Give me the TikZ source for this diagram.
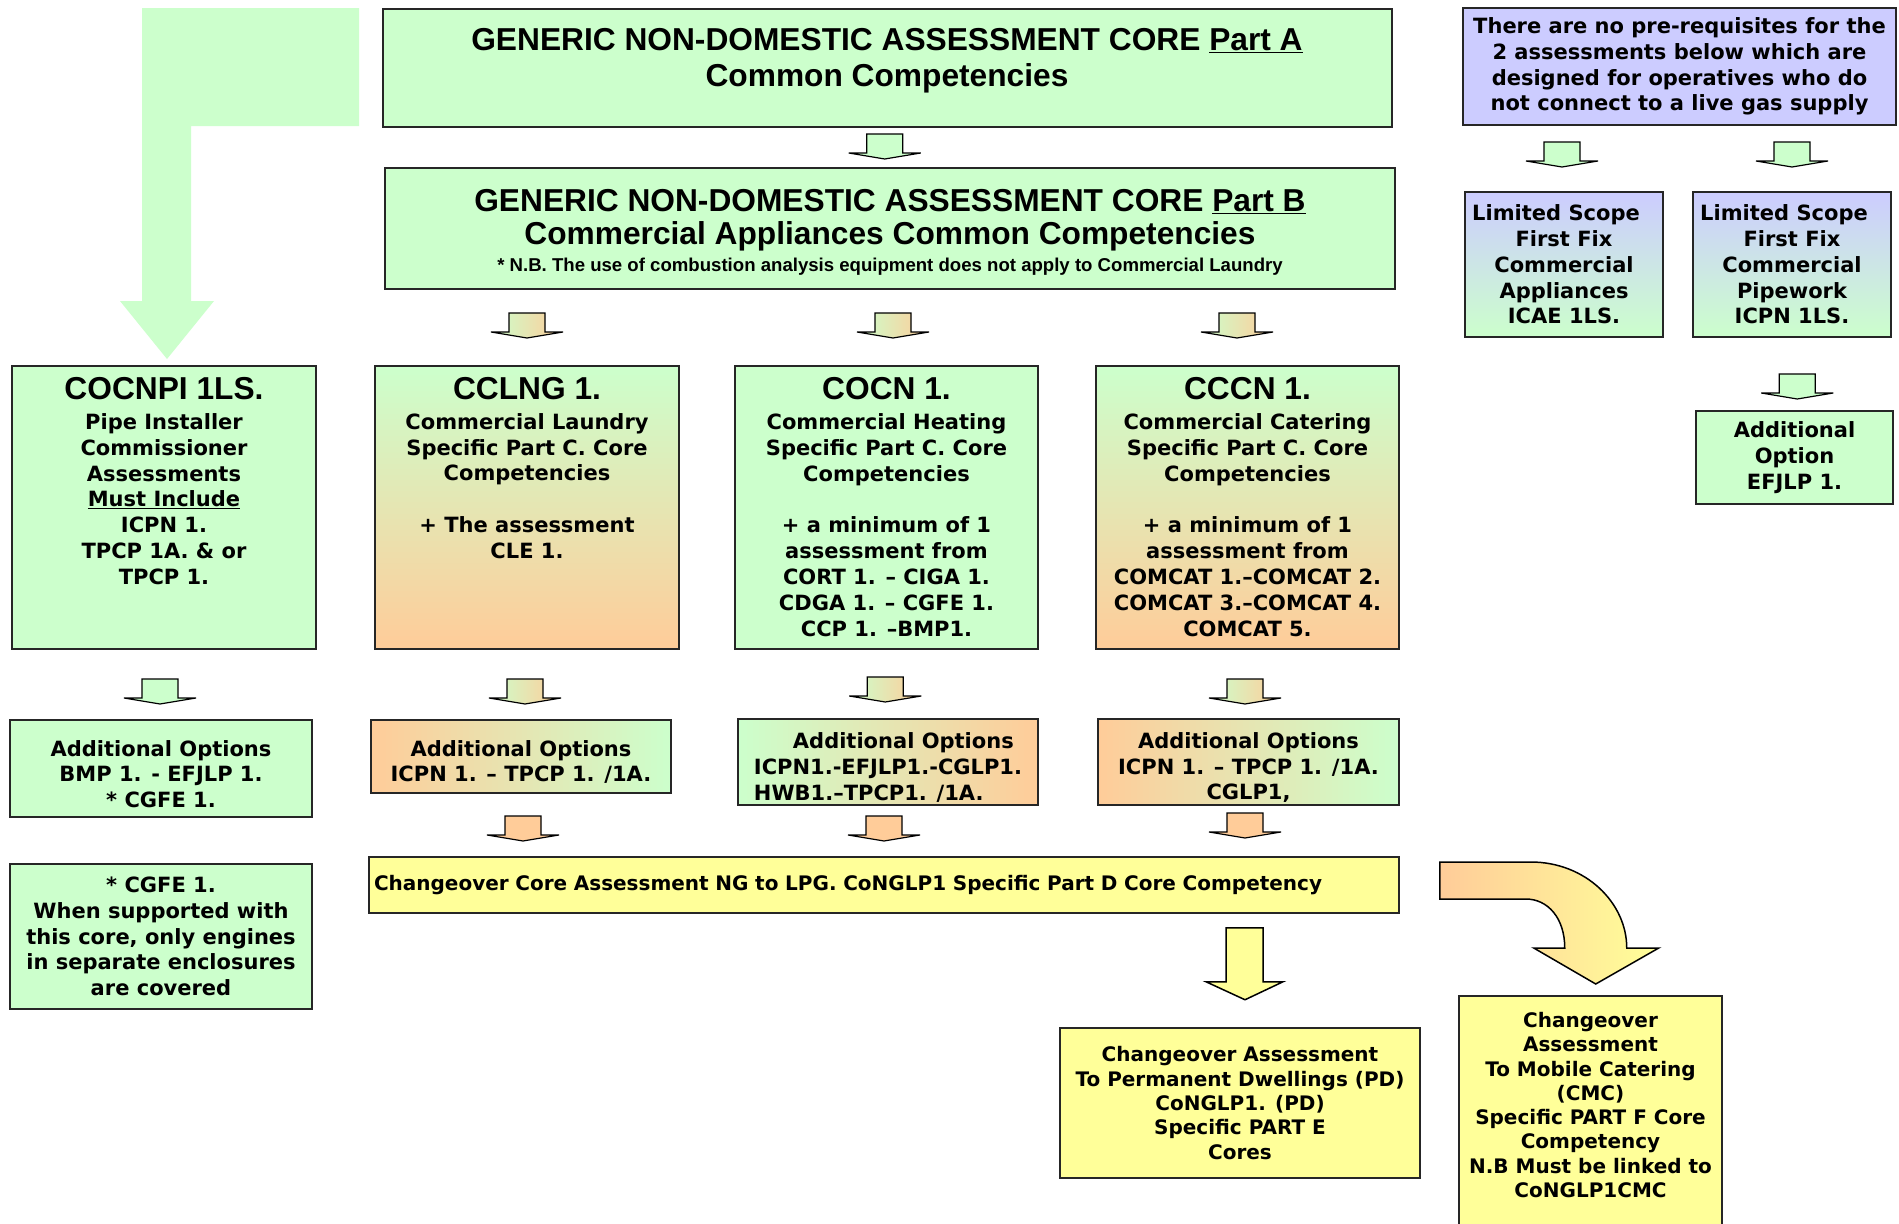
\documentclass[tikz,border=0pt]{standalone}
\usepackage{fontspec}
\newfontfamily\headfont{Liberation Sans}
\newfontfamily\bodyfont{DejaVu Sans}
\usepackage{xcolor}
\usetikzlibrary{positioning, calc}

\definecolor{cgreen}{HTML}{CCFFCC}
\definecolor{corange}{HTML}{FFCC99}
\definecolor{cyellow}{HTML}{FFFF99}
\definecolor{cpurple}{HTML}{CCCCFF}

\newcommand{\tallstrut}{\rule{0pt}{27pt}}

\begin{document}
\begin{tikzpicture}[
  x=1pt, y=-1pt,
  box/.style={draw=black!85, line width=1.5pt, inner sep=0pt, align=center},
  head/.style={font={\headfont\bfseries\fontsize{31.7}{36}\selectfont}, align=center, inner sep=0pt},
  note/.style={font={\headfont\bfseries\fontsize{18.6}{20}\selectfont}, align=center, inner sep=0pt},
  body/.style={font={\bodyfont\bfseries\fontsize{21}{25.8}\selectfont}},
  chg/.style={font={\bodyfont\bfseries\fontsize{20}{24.3}\selectfont}, align=center},
  arr/.style={draw=black, line width=1.2pt},
  bigarr/.style={draw=black, line width=1.5pt},
  downarr/.style={insert path={++(-18,-12.5) -- ++(36,0) -- ++(0,19) -- ++(18,0) -- ++(-36,6) -- ++(-36,-6) -- ++(18,0) -- cycle}}
]
\path[use as bounding box, fill=white] (0,0) rectangle (1899,1224);

% Big arrow on the left
\fill[cgreen] (142,8) -- (359,8) -- (359,126) -- (191,126) -- (191,301) -- (214,301)
  -- (167,359) -- (120,301) -- (142,301) -- cycle;

% Core parts
\node[box, fill=cgreen, minimum width=1009pt, minimum height=118pt] (partA) at (887.5,68) {};
\node[head] (partAT) at (887,61) {GENERIC NON-DOMESTIC ASSESSMENT CORE \underline{Part A}\\Common Competencies};
\node[box, fill=cgreen, minimum width=1010pt, minimum height=121pt] (partB) at (890,228.5) {};
\node[head, font={\headfont\bfseries\fontsize{31.7}{33}\selectfont}] (partBT) at (890,220)
  {GENERIC NON-DOMESTIC ASSESSMENT CORE \underline{Part B}\\Commercial Appliances Common Competencies};
\node[note] (partBN) at (890,267) {* N.B. The use of combustion analysis equipment does not apply to Commercial Laundry};

% Limited scope side
\node[box, body, fill=cpurple, minimum width=433pt, minimum height=117pt] (prereq) at (1679.5,66.5)
  {There are no pre-requisites for the\\2 assessments below which are\\designed for operatives who do\\not connect to a live gas supply};
\node[box, body, top color=cpurple, bottom color=cgreen, minimum width=198pt, minimum height=145pt] (lsAppl) at (1564,264.5)
  {Limited Scope\hspace*{16pt}\\First Fix\\Commercial\\Appliances\\ICAE 1LS.};
\node[box, body, top color=cpurple, bottom color=cgreen, minimum width=198pt, minimum height=145pt] (lsPipe) at (1792,264.5)
  {Limited Scope\hspace*{16pt}\\First Fix\\Commercial\\Pipework\\ICPN 1LS.};
\node[box, body, fill=cgreen, minimum width=197pt, minimum height=93pt] (efjlp) at (1794.5,457.5)
  {Additional\\Option\\EFJLP 1.};

% Part C columns
\node[box, fill=cgreen, minimum width=304pt, minimum height=283pt] (cocnpi) at (164,507.5) {};
\node[box, top color=cgreen, bottom color=corange, minimum width=304pt, minimum height=283pt] (cclng) at (527,507.5) {};
\node[box, fill=cgreen, minimum width=303pt, minimum height=283pt] (cocn) at (886.5,507.5) {};
\node[box, top color=cgreen, bottom color=corange, minimum width=303pt, minimum height=283pt] (cccn) at (1247.5,507.5) {};

\node[head] (cocnpiT) at (164,389) {COCNPI 1LS.};
\node[head] (cclngT) at (527,389) {CCLNG 1.};
\node[head] (cocnT) at (886.5,389) {COCN 1.};
\node[head] (cccnT) at (1247.5,389) {CCCN 1.};

\node[body, align=center, inner sep=0pt] (cocnpiB) at (164,499)
  {Pipe Installer\\Commissioner\\Assessments\\\underline{Must Include}\\ICPN 1.\\TPCP 1A. \& or\\TPCP 1.};
\node[body, align=center, inner sep=0pt] (cclngB) at (527,486)
  {Commercial Laundry\\Specific Part C. Core\\Competencies\\[25.8pt]+ The assessment\\CLE 1.};
\node[body, align=center, inner sep=0pt] (cocnB) at (886.5,525)
  {Commercial Heating\\Specific Part C. Core\\Competencies\\[25.8pt]+ a minimum of 1\\assessment from\\CORT 1. – CIGA 1.\\CDGA 1. – CGFE 1.\\CCP 1. –BMP1.};
\node[body, align=center, inner sep=0pt] (cccnB) at (1247.5,525)
  {Commercial Catering\\Specific Part C. Core\\Competencies\\[25.8pt]+ a minimum of 1\\assessment from\\COMCAT 1.–COMCAT 2.\\COMCAT 3.–COMCAT 4.\\COMCAT 5.};

% Additional options
\node[box, body, fill=cgreen, minimum width=302pt, minimum height=97pt] (optCocnpi) at (161,768.5)
  {\tallstrut Additional Options\\BMP 1. - EFJLP 1.\\* CGFE 1.};
\node[box, body, left color=corange, right color=cgreen, minimum width=300pt, minimum height=73pt] (optCclng) at (521,756.5)
  {\tallstrut Additional Options\\ICPN 1. – TPCP 1. /1A.};
\node[box, body, align=left, left color=cgreen, right color=corange, minimum width=300pt, minimum height=86pt] (optCocn) at (888,762)
  {\tallstrut\hspace*{39pt}Additional Options\\ICPN1.-EFJLP1.-CGLP1.\\HWB1.–TPCP1. /1A.};
\node[box, body, left color=corange, right color=cgreen, minimum width=301pt, minimum height=86pt] (optCccn) at (1248.5,762)
  {\tallstrut Additional Options\\ICPN 1. – TPCP 1. /1A.\\CGLP1,};
\node[box, body, fill=cgreen, minimum width=302pt, minimum height=145pt] (cgfe) at (161,936.5)
  {* CGFE 1.\\When supported with\\this core, only engines\\in separate enclosures\\are covered};

% Changeover
\node[box, chg, align=left, fill=cyellow, text width=1020pt, minimum width=1030pt, minimum height=56pt] (core) at (884,885)
  {Changeover Core Assessment NG to LPG. CoNGLP1 Specific Part D Core Competency};
\node[box, chg, fill=cyellow, minimum width=360pt, minimum height=150pt] (pd) at (1240,1103)
  {Changeover Assessment\\To Permanent Dwellings (PD)\\CoNGLP1. (PD)\\Specific PART E\\Cores};
\node[box, fill=cyellow, minimum width=263pt, minimum height=244pt] (cmc) at (1590.5,1118) {};
\node[chg, inner sep=0pt] (cmcT) at (1590.5,1105)
  {Changeover\\Assessment\\To Mobile Catering\\(CMC)\\Specific PART F Core\\Competency\\N.B Must be linked to\\CoNGLP1CMC};

% Arrows
\draw[arr, fill=cgreen] ($(partA.south)!.5!(partB.north)+(-4,-1)$) [downarr];
\draw[arr, left color=cgreen, right color=corange] ($(partB.south -| cclng.north)!.5!(cclng.north)+(0,-2)$) [downarr];
\draw[arr, left color=cgreen, right color=corange] ($(partB.south -| cocn.north)!.5!(cocn.north)+(6.5,-2)$) [downarr];
\draw[arr, left color=cgreen, right color=corange] ($(partB.south -| cccn.north)!.5!(cccn.north)+(-10.5,-2)$) [downarr];
\draw[arr, fill=cgreen] ($(prereq.south -| lsAppl.north)!.5!(lsAppl.north)+(-2,-4)$) [downarr];
\draw[arr, fill=cgreen] ($(prereq.south -| lsPipe.north)!.5!(lsPipe.north)+(0,-4)$) [downarr];
\draw[arr, fill=cgreen] ($(lsPipe.south)!.5!(efjlp.north)+(4,12.5)$) [downarr];

\draw[arr, fill=cgreen] ($(cocnpi.south)!.5!(optCocnpi.north)+(-2.5,7)$) [downarr];
\draw[arr, left color=cgreen, right color=corange] ($(cclng.south)!.5!(optCclng.north)+(1,7)$) [downarr];
\draw[arr, left color=cgreen, right color=corange] ($(cocn.south)!.5!(optCocn.north)+(-2,5.5)$) [downarr];
\draw[arr, left color=cgreen, right color=corange] ($(cccn.south)!.5!(optCccn.north)+(-3,7.5)$) [downarr];

\draw[arr, fill=corange] ($(optCclng.south)!.5!(optCclng.south |- core.north)+(2,3.5)$) [downarr];
\draw[arr, fill=corange] ($(optCocn.south)!.5!(optCocn.south |- core.north)+(-4,-2.5)$) [downarr];
\draw[arr, fill=corange] ($(optCccn.south)!.5!(optCccn.south |- core.north)+(-3.5,-5.5)$) [downarr];

\draw[bigarr, fill=cyellow] ($(core.south -| pd.north)+(-14,14)$) -- ++(37,0) -- ++(0,54) -- ++(20,0)
  -- ++(-38,18) -- ++(-39,-18) -- ++(20,0) -- cycle;
\draw[bigarr, left color=corange, right color=cyellow] ($(core.east)+(40,-23)$) -- ++(91,0)
  .. controls +(55,0) and +(0,-45) .. ++(96,86) -- ++(32,0) -- ++(-63,36) -- ++(-62,-36) -- ++(31,0)
  .. controls +(0,-30) and +(22,0) .. ++(-39,-49) -- ++(-86,0) -- cycle;
\end{tikzpicture}
\end{document}
